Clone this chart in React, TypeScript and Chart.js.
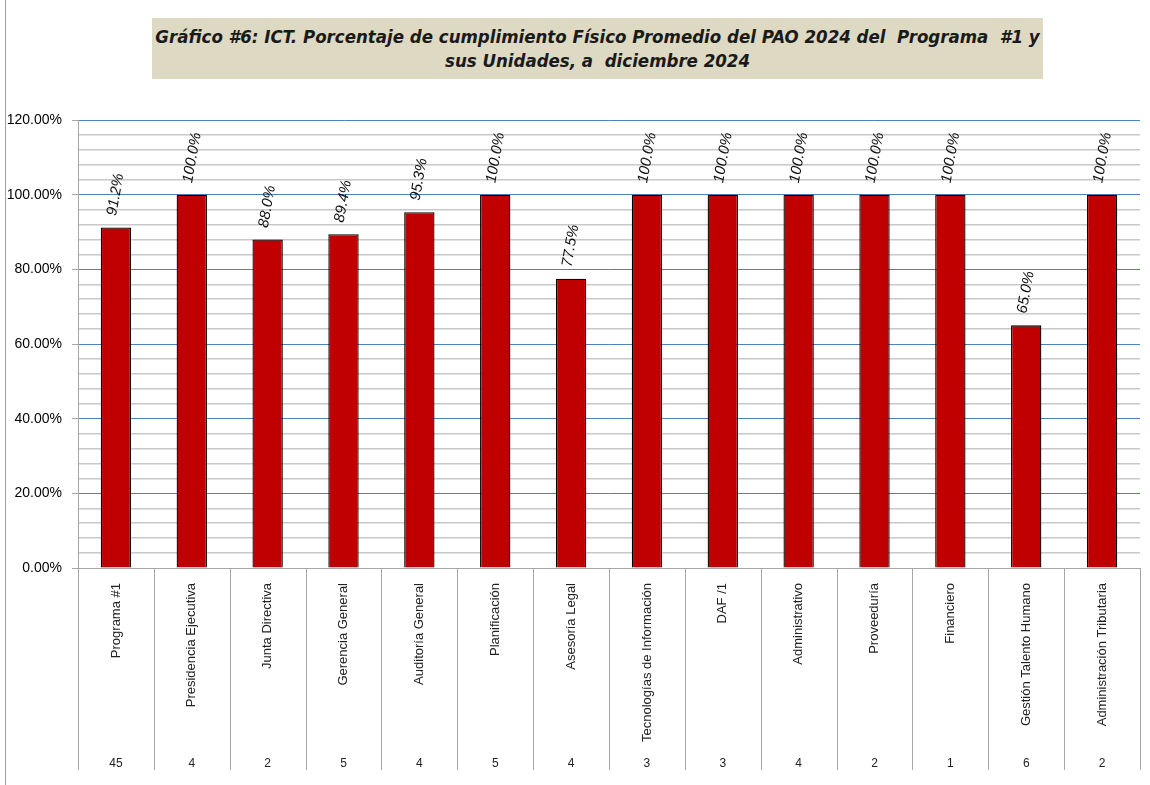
import React, { useEffect, useRef } from "react";
import { Chart, registerables } from "chart.js";

Chart.register(...registerables);

const titleLines = [
  "Gráfico #6: ICT. Porcentaje de cumplimiento Físico Promedio del PAO 2024 del  Programa  #1 y",
  "sus Unidades, a  diciembre 2024",
];

const categories = [
  "Programa #1",
  "Presidencia Ejecutiva",
  "Junta Directiva",
  "Gerencia General",
  "Auditoría General",
  "Planificación",
  "Asesoría Legal",
  "Tecnologías de Información",
  "DAF /1",
  "Administrativo",
  "Proveeduría",
  "Financiero",
  "Gestión Talento Humano",
  "Administración Tributaria",
];

const counts = ["45", "4", "2", "5", "4", "5", "4", "3", "3", "4", "2", "1", "6", "2"];

const cumplimiento = [91.2, 100.0, 88.0, 89.4, 95.3, 100.0, 77.5, 100.0, 100.0, 100.0, 100.0, 100.0, 65.0, 100.0];

const yMin = 0;
const yMax = 120;
const yStep = 4;
const yMajor = 20;

const barLabelsPlugin = {
  id: "barLabels",
  afterDatasetsDraw(chart: any) {
    const ctx = chart.ctx;
    const meta = chart.getDatasetMeta(0);
    const data = chart.data.datasets[0].data as number[];
    ctx.save();
    ctx.fillStyle = "#111";
    ctx.font = "italic 15px 'Liberation Sans', Arial, sans-serif";
    ctx.textAlign = "left";
    ctx.textBaseline = "middle";
    meta.data.forEach((el: any, i: number) => {
      ctx.save();
      ctx.translate(el.x - 4, el.y - 12);
      ctx.rotate((-80 * Math.PI) / 180);
      ctx.fillText(data[i].toFixed(1) + "%", 0, 0);
      ctx.restore();
    });
    ctx.restore();
  },
};

const separatorsPlugin = {
  id: "separators",
  afterDraw(chart: any) {
    const ctx = chart.ctx;
    const xs = chart.scales.x;
    const n = chart.data.labels.length;
    const p0 = xs.getPixelForValue(0);
    const p1 = xs.getPixelForValue(1);
    const half = (p1 - p0) / 2;
    const top = chart.chartArea.bottom;
    const bottom = 770;
    ctx.save();
    ctx.strokeStyle = "#a6a6a6";
    ctx.lineWidth = 1;
    for (let i = 0; i <= n; i++) {
      const px = Math.round(xs.getPixelForValue(Math.min(i, n - 1)) + (i < n ? -half : half)) + 0.5;
      ctx.beginPath();
      ctx.moveTo(px, top);
      ctx.lineTo(px, bottom);
      ctx.stroke();
    }
    ctx.restore();
  },
};

function ChartCanvas() {
  const ref = useRef<HTMLCanvasElement | null>(null);
  useEffect(() => {
    if (!ref.current) return;
    const chart = new Chart(ref.current, {
      type: "bar",
      data: {
        labels: categories,
        datasets: [
          {
            data: cumplimiento,
            backgroundColor: "#c00000",
            borderColor: "#000000",
            borderWidth: 1.3,
            barPercentage: 0.8,
            categoryPercentage: 0.5,
            xAxisID: "x",
          },
        ],
      },
      options: {
        responsive: false,
        animation: false,
        layout: { padding: { left: 0, right: 10, top: 120, bottom: 7 } },
        plugins: {
          legend: { display: false },
          tooltip: { enabled: false },
          title: { display: false },
        },
        scales: {
          x: {
            type: "category",
            position: "bottom",
            offset: true,
            grid: { display: false },
            border: { display: true, color: "#a6a6a6" },
            ticks: {
              autoSkip: false,
              minRotation: 90,
              maxRotation: 90,
              padding: 7,
              color: "#222",
              font: { family: "'Liberation Sans', Arial, sans-serif", size: 13 },
            },
            afterFit(scale: any) {
              scale.height = 180;
            },
          },
          x2: {
            type: "category",
            position: "bottom",
            labels: counts,
            offset: true,
            grid: { display: false },
            border: { display: false },
            ticks: {
              autoSkip: false,
              maxRotation: 0,
              minRotation: 0,
              padding: 0,
              color: "#222",
              font: { family: "'Liberation Sans', Arial, sans-serif", size: 12 },
            },
            afterFit(scale: any) {
              scale.height = 30;
            },
          },
          y: {
            min: yMin,
            max: yMax,
            border: { display: true, color: "#a6a6a6" },
            grid: {
              color: (c: any) => {
                const v = c.tick ? c.tick.value : 0;
                if (v === 0) return "rgba(0,0,0,0)";
                return Math.round(v) % yMajor === 0 ? "#4f7fbd" : "#c8c8c8";
              },
              lineWidth: (c: any) => {
                const v = c.tick ? c.tick.value : 0;
                return Math.round(v) % yMajor === 0 ? 1 : 1.5;
              },
              tickColor: (c: any) => {
                const v = c.tick ? c.tick.value : 0;
                return Math.round(v) % yMajor === 0 ? "#a6a6a6" : "rgba(0,0,0,0)";
              },
              tickLength: 6,
            },
            ticks: {
              stepSize: yStep,
              autoSkip: false,
              padding: 10,
              color: "#000",
              font: { family: "'Liberation Sans', Arial, sans-serif", size: 14 },
              callback: (v: any) =>
                Math.round(Number(v)) % yMajor === 0 ? Number(v).toFixed(2) + "%" : "",
            },
            afterFit(scale: any) {
              scale.width = 78;
            },
          },
        },
      } as any,
      plugins: [barLabelsPlugin, separatorsPlugin],
    });
    return () => chart.destroy();
  }, []);
  return <canvas ref={ref} width={1150} height={785} style={{ display: "block" }} />;
}

export default function App() {
  return (
    <div
      style={{
        position: "absolute",
        left: 0,
        top: 0,
        width: 1150,
        height: 785,
        background: "#fff",
        overflow: "hidden",
      }}
    >
      <ChartCanvas />
      <div
        style={{
          position: "absolute",
          left: 5,
          top: 0,
          width: 0,
          height: 785,
          borderLeft: "1px solid #a0a0a0",
        }}
      />
      <div
        style={{
          position: "absolute",
          left: 152,
          top: 18,
          width: 891,
          height: 61,
          background: "#ddd9c3",
          display: "flex",
          flexDirection: "column",
          justifyContent: "center",
          alignItems: "center",
          fontFamily: "'Liberation Sans Narrow', 'DejaVu Sans Condensed', sans-serif",
          fontWeight: "bold",
          fontStyle: "italic",
          fontSize: 18.5,
          lineHeight: "24px",
          color: "#1a1a1a",
          whiteSpace: "pre",
        }}
      >
        {titleLines.map((l, i) => (
          <div key={i}>{l}</div>
        ))}
      </div>
    </div>
  );
}
